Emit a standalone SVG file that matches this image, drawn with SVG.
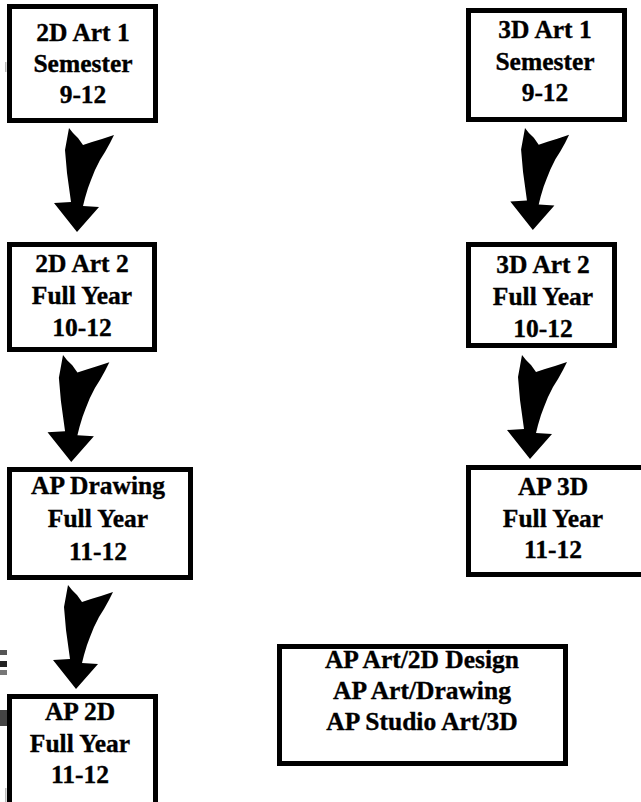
<svg xmlns="http://www.w3.org/2000/svg" xmlns:xlink="http://www.w3.org/1999/xlink" width="641" height="802" viewBox="0 0 641 802">
<style>
.box{fill:#fff;stroke:#000;stroke-width:5}
.t{font-family:"Liberation Serif","Times New Roman",serif;font-weight:bold;font-size:25.5px;fill:#000;stroke:#000;stroke-width:0.35;text-anchor:middle}
</style>
<defs>
<path id="arr" d="M0,0 L4,5 L9,10 L14,17 L23,14 L33,11 L45,7 L41,15 L36,24 L31,32 L26,42 L22,52 L19,60 L16,70 L14,78 L30,79 L8,104 L-15,75 L2,74 L-2,45 L-4,22 Z" fill="#000"/>
</defs>
<rect width="641" height="802" fill="#fff"/>
<g id="artifacts">
<rect x="0" y="650" width="7" height="5" fill="#555"/>
<rect x="0" y="661" width="7" height="6" fill="#222"/>
<rect x="0" y="670" width="7" height="5" fill="#777"/>
<rect x="0" y="710" width="7" height="16" fill="#444"/>
<rect x="5" y="62" width="1.5" height="10" fill="#bbb"/>
<rect x="5" y="788" width="1.5" height="14" fill="#bbb"/>
</g>
<g id="connectors">
<use xlink:href="#arr" transform="translate(69,128)"/>
<use xlink:href="#arr" transform="translate(63,355) scale(1.03)"/>
<use xlink:href="#arr" transform="translate(68,585)"/>
<use xlink:href="#arr" transform="translate(525,128) scale(0.98)"/>
<use xlink:href="#arr" transform="translate(522,355)"/>
</g>
<g id="n2d1">
<rect class="box" x="9.5" y="6.5" width="146" height="114"/>
<text class="t" x="83" y="41">2D Art 1</text>
<text class="t" x="83" y="72">Semester</text>
<text class="t" x="83" y="103">9-12</text>
</g>
<g id="n2d2">
<rect class="box" x="9.5" y="244.5" width="145" height="105"/>
<text class="t" x="82" y="272">2D Art 2</text>
<text class="t" x="82" y="304">Full Year</text>
<text class="t" x="82" y="336">10-12</text>
</g>
<g id="napdraw">
<rect class="box" x="9.5" y="469.5" width="181" height="108"/>
<text class="t" x="98" y="494">AP Drawing</text>
<text class="t" x="98" y="527">Full Year</text>
<text class="t" x="98" y="560">11-12</text>
</g>
<g id="nap2d">
<rect class="box" x="9.5" y="696.5" width="146" height="120"/>
<text class="t" x="80" y="720">AP 2D</text>
<text class="t" x="80" y="752">Full Year</text>
<text class="t" x="80" y="783">11-12</text>
</g>
<g id="n3d1">
<rect class="box" x="468.5" y="10.5" width="156" height="109"/>
<text class="t" x="545" y="38">3D Art 1</text>
<text class="t" x="545" y="70">Semester</text>
<text class="t" x="545" y="101">9-12</text>
</g>
<g id="n3d2">
<rect class="box" x="468.5" y="244.5" width="146" height="101"/>
<text class="t" x="543" y="273">3D Art 2</text>
<text class="t" x="543" y="305">Full Year</text>
<text class="t" x="543" y="337">10-12</text>
</g>
<g id="nap3d">
<rect class="box" x="468.5" y="467.5" width="176" height="107"/>
<text class="t" x="553" y="495">AP 3D</text>
<text class="t" x="553" y="527">Full Year</text>
<text class="t" x="553" y="558">11-12</text>
</g>
<g id="naplist">
<rect class="box" x="279.5" y="646.5" width="286" height="117"/>
<text class="t" x="422" y="668">AP Art/2D Design</text>
<text class="t" x="422" y="699">AP Art/Drawing</text>
<text class="t" x="422" y="730">AP Studio Art/3D</text>
</g>
</svg>
